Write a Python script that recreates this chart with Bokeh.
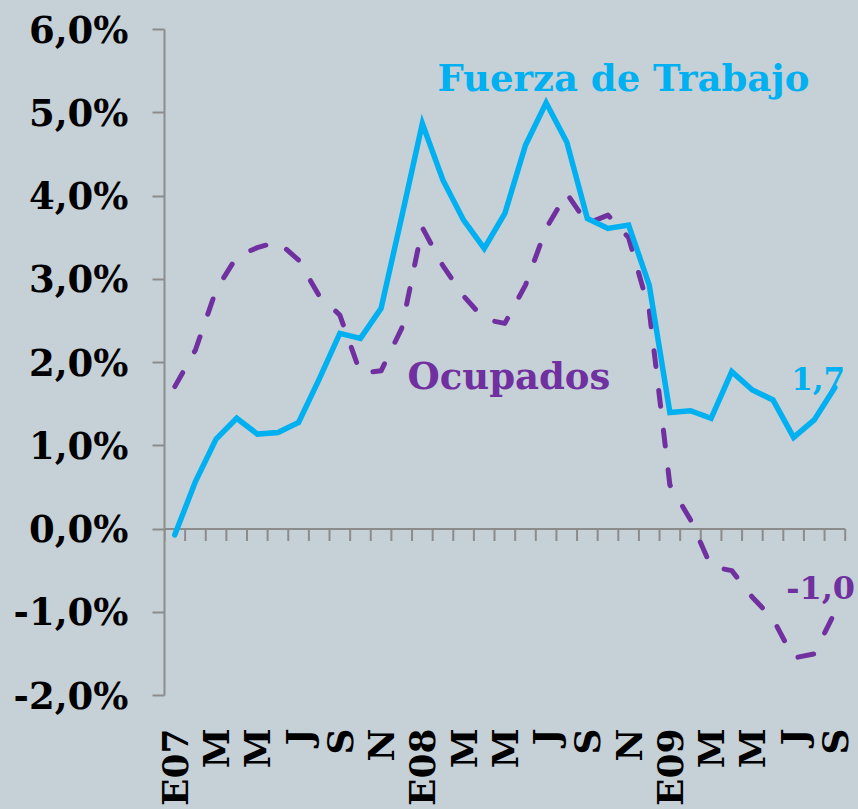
import math
from bokeh.plotting import figure
from bokeh.models import Label, FixedTicker
from bokeh.embed import file_html
from bokeh.resources import INLINE

# ---- data (monthly, Ene 2007 .. Sep 2009), % anual ----
months = list(range(33))
fuerza_trabajo = [-0.07, 0.57, 1.08, 1.33, 1.14, 1.16, 1.28, 1.80, 2.35, 2.29, 2.65,
                  3.75, 4.87, 4.19, 3.71, 3.37, 3.79, 4.61, 5.12, 4.65, 3.73, 3.61,
                  3.65, 2.93, 1.40, 1.42, 1.33, 1.89, 1.67, 1.55, 1.10, 1.31, 1.70]
ocupados = [1.71, 2.15, 2.87, 3.27, 3.38, 3.45, 3.23, 2.80, 2.57, 1.87, 1.90,
            2.41, 3.62, 3.16, 2.80, 2.52, 2.47, 2.93, 3.61, 4.03, 3.67, 3.77,
            3.50, 2.63, 0.53, 0.11, -0.45, -0.50, -0.82, -1.08, -1.55, -1.50, -1.00]
x_ticks = [0, 2, 4, 6, 8, 10, 12, 14, 16, 18, 20, 22, 24, 26, 28, 30, 32]
x_tick_labels = ["E07", "M", "M", "J", "S", "N", "E08", "M", "M", "J", "S", "N",
                 "E09", "M", "M", "J", "S"]
y_ticks = [-2, -1, 0, 1, 2, 3, 4, 5, 6]
y_tick_labels = ["-2,0%", "-1,0%", "0,0%", "1,0%", "2,0%", "3,0%", "4,0%", "5,0%", "6,0%"]

BG = "#C6D0D7"
CYAN = "#00B0F0"
PURPLE = "#7030A0"
AXIS = "#8C8C8C"
FONT = "DejaVu Serif"

p = figure(width=858, height=809, x_range=(-0.5, 33.0), y_range=(-2, 6),
           output_backend="svg", toolbar_location=None,
           min_border_left=164, min_border_top=29, min_border_right=3,
           min_border_bottom=114)
p.background_fill_color = BG
p.border_fill_color = BG
p.outline_line_color = None
p.grid.visible = False

# y axis
p.yaxis.ticker = FixedTicker(ticks=y_ticks)
p.yaxis.major_label_overrides = dict(zip(y_ticks, y_tick_labels))
p.yaxis.axis_line_color = AXIS
p.yaxis.axis_line_width = 2
p.yaxis.major_tick_line_color = AXIS
p.yaxis.major_tick_line_width = 2
p.yaxis.major_tick_out = 12
p.yaxis.major_tick_in = 0
p.yaxis.minor_tick_line_color = None
p.yaxis.major_label_standoff = 24
p.yaxis.major_label_text_font = FONT
p.yaxis.major_label_text_font_style = "bold"
p.yaxis.major_label_text_font_size = "37px"
p.yaxis.major_label_text_color = "#000000"

# x axis (labels only, at bottom)
p.xaxis.ticker = FixedTicker(ticks=x_ticks)
p.xaxis.major_label_overrides = dict(zip(x_ticks, x_tick_labels))
p.xaxis.axis_line_color = None
p.xaxis.major_tick_line_color = None
p.xaxis.minor_tick_line_color = None
p.xaxis.major_tick_out = 0
p.xaxis.major_tick_in = 0
p.xaxis.major_label_orientation = math.pi / 2
p.xaxis.major_label_standoff = 33
p.xaxis.major_label_text_font = FONT
p.xaxis.major_label_text_font_style = "bold"
p.xaxis.major_label_text_font_size = "36px"
p.xaxis.major_label_text_color = "#000000"

# zero line with monthly ticks
edges = [m - 0.5 for m in months] + [months[-1] + 0.5]
p.segment(x0=[edges[0]], y0=[0], x1=[edges[-1]], y1=[0], line_color=AXIS, line_width=2)
tick_len = 12 / 83.25
p.segment(x0=edges, y0=[0] * len(edges), x1=edges, y1=[-tick_len] * len(edges),
          line_color=AXIS, line_width=2)

# series
p.line(months, ocupados, line_color=PURPLE, line_width=5, line_dash="16 24",
       line_cap="round", line_join="round")
p.line(months, fuerza_trabajo, line_color=CYAN, line_width=5.5,
       line_cap="round", line_join="miter")

def lab(x, y, text, color, size, align="left"):
    p.add_layout(Label(x=x, y=y, text=text, text_color=color, text_font=FONT,
                       text_font_style="bold", text_font_size=size,
                       text_align=align, text_baseline="alphabetic"))

lab(12.73, 5.42, "Fuerza de Trabajo", CYAN, "37px")
lab(11.28, 1.84, "Ocupados", PURPLE, "37px")
lab(32.5, 1.81, f"{fuerza_trabajo[-1]:.1f}".replace(".", ","), CYAN, "31px", "right")
lab(32.98, -0.70, f"{ocupados[-1]:.1f}".replace(".", ","), PURPLE, "32px", "right")

html = file_html(p, INLINE)
html = html.replace("<head>", "<head><style>body{background:%s;}</style>" % BG, 1)
open("out.html", "w").write(html)
